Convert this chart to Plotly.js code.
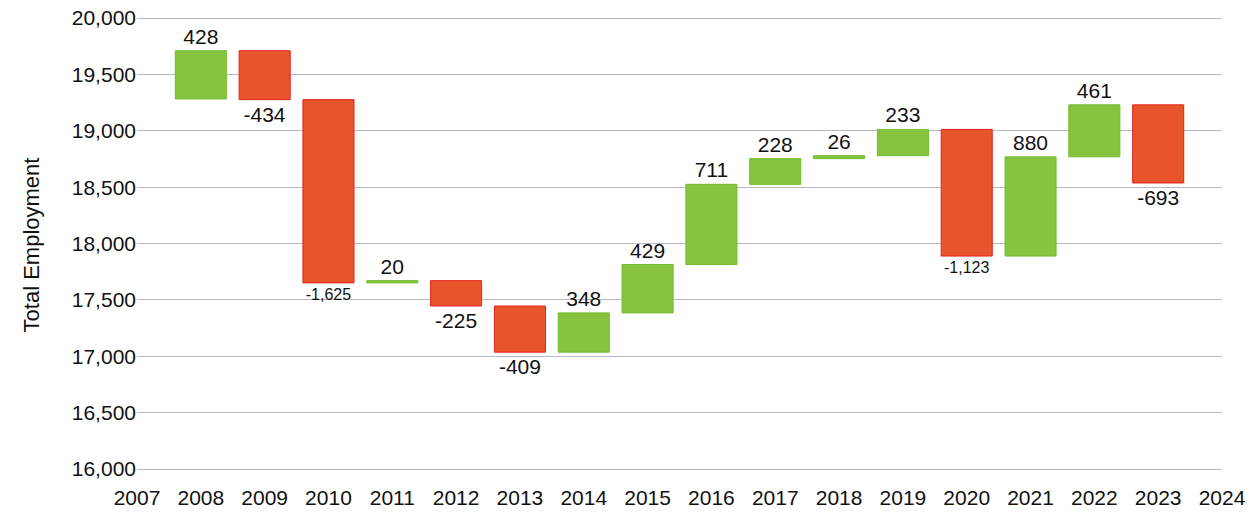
<!DOCTYPE html>
<html>
<head>
<meta charset="utf-8">
<script src="https://cdn.plot.ly/plotly-3.0.1.min.js"></script>
<style>html,body{margin:0;padding:0;background:#fff;}#chart{width:1258px;height:527px;}</style>
</head>
<body>
<div id="chart"></div>
<script>
const years = [2008, 2009, 2010, 2011, 2012, 2013, 2014, 2015, 2016, 2017, 2018, 2019, 2020, 2021, 2022, 2023];
const changes = [428, -434, -1625, 20, -225, -409, 348, 429, 711, 228, 26, 233, -1123, 880, 461, -693];
const startEmployment = 19282;
const xTicks = [2007, 2008, 2009, 2010, 2011, 2012, 2013, 2014, 2015, 2016, 2017, 2018, 2019, 2020, 2021, 2022, 2023, 2024];
const yTicks = [16000, 16500, 17000, 17500, 18000, 18500, 19000, 19500, 20000];

const labels = changes.map(v => v.toLocaleString('en-US'));
const labelSizes = changes.map(v => Math.abs(v) >= 1000 ? 16 : 21);

const FONT = '"Liberation Sans", Arial, sans-serif';

const trace = {
  type: 'waterfall',
  x: years,
  y: changes,
  base: startEmployment,
  measure: years.map(() => 'relative'),
  text: labels,
  textposition: 'outside',
  textfont: {size: labelSizes, color: '#111', family: FONT},
  constraintext: 'none',
  cliponaxis: false,
  width: 0.8,
  connector: {visible: false},
  increasing: {marker: {color: '#86c440', line: {color: '#72bd2c', width: 1}}},
  decreasing: {marker: {color: '#e8542c', line: {color: '#e3221b', width: 1}}},
  hoverinfo: 'x+y'
};

const layout = {
  width: 1258,
  height: 527,
  margin: {l: 137, r: 36, t: 10, b: 47},
  paper_bgcolor: '#fff',
  plot_bgcolor: '#fff',
  showlegend: false,
  font: {family: FONT, color: '#111', size: 21},
  xaxis: {
    range: [2007, 2024],
    tickvals: xTicks,
    ticktext: xTicks.map(String),
    showgrid: false,
    zeroline: false,
    showline: false,
    ticks: '',
    ticklabelstandoff: 3,
    tickfont: {size: 21, color: '#111'}
  },
  yaxis: {
    range: [15903, 20071],
    tickvals: yTicks,
    ticktext: yTicks.map(v => v.toLocaleString('en-US')),
    showgrid: true,
    gridcolor: '#b9b9c6',
    gridwidth: 1,
    zeroline: false,
    showline: false,
    ticks: '',
    tickfont: {size: 21, color: '#111'},
    title: {text: 'Total Employment', font: {size: 22, color: '#111'}, standoff: 26}
  }
};

Plotly.newPlot('chart', [trace], layout, {displayModeBar: false, staticPlot: true});
</script>
</body>
</html>
